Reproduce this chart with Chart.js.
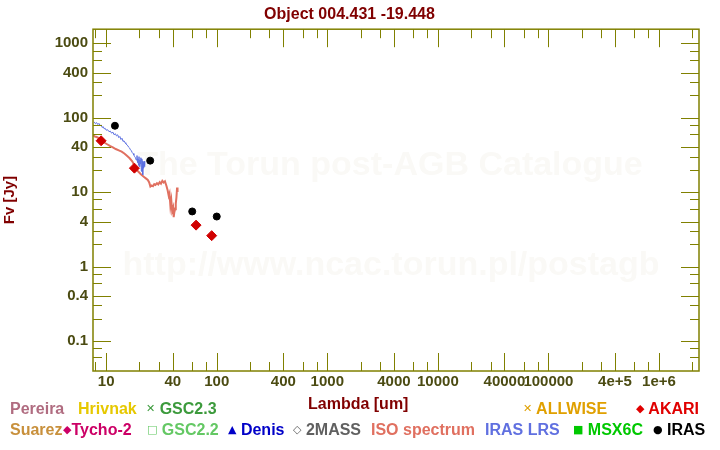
<!DOCTYPE html>
<html>
<head>
<meta charset="utf-8">
<title>Object 004.431 -19.448</title>
<script src="https://cdn.jsdelivr.net/npm/chart.js@4.4.1/dist/chart.umd.min.js"></script>
<style>
  body { margin: 0; background: #fff; }
  #wrap { position: relative; width: 720px; height: 450px; }
  #sed { position: absolute; left: 0; top: 0; }
  .lg { position: absolute; font: bold 16px "Liberation Sans", Arial, sans-serif; line-height: 18px; white-space: nowrap; }
  .sym { font-family: "DejaVu Sans", sans-serif; font-size: 11px; vertical-align: 2px; }
</style>
</head>
<body>
<div id="wrap">
  <canvas id="sed" width="720" height="450"></canvas>
  <div class="lg" style="left:308px;top:395px;color:#800000">Lambda [um]</div>

  <div class="lg" style="left:10px;top:400px;color:#b06c80">Pereira</div>
  <div class="lg" style="left:78px;top:400px;color:#e6c800">Hrivnak</div>
  <div class="lg" style="left:146px;top:400px;color:#3c9a3c"><span class="sym">✕</span> GSC2.3</div>
  <div class="lg" style="left:523px;top:400px;color:#e0a000"><span class="sym">✕</span> ALLWISE</div>
  <div class="lg" style="left:636px;top:400px;color:#e00000"><span class="sym">◆</span> AKARI</div>

  <div class="lg" style="left:10px;top:421px;color:#c8903c">Suarez</div>
  <div class="lg" style="left:63px;top:421px;color:#cc0066"><span class="sym">◆</span>Tycho-2</div>
  <div class="lg" style="left:147px;top:421px;color:#64c864"><span class="sym">□</span> GSC2.2</div>
  <div class="lg" style="left:228px;top:421px;color:#0000c8"><span class="sym">▲</span> Denis</div>
  <div class="lg" style="left:293px;top:421px;color:#606060"><span class="sym">◇</span> 2MASS</div>
  <div class="lg" style="left:371px;top:421px;color:#e07060">ISO spectrum</div>
  <div class="lg" style="left:485px;top:421px;color:#6070e0">IRAS LRS</div>
  <div class="lg" style="left:573px;top:421px;color:#00c800"><span class="sym">■</span> MSX6C</div>
  <div class="lg" style="left:653px;top:421px;color:#000000"><span class="sym">●</span> IRAS</div>
</div>
<script>
'use strict';

// ISO spectrum (um, Jy)
const isoLambda = [7.6, 7.9, 8.2, 8.6, 8.9, 9.3, 9.7, 10.2, 10.9, 11.5, 12.2, 13.0, 13.8, 14.6,
  15.5, 16.3, 17.2, 18.0, 18.6, 19.1, 19.8, 20.5, 21.1, 22.0, 23.0, 23.8, 24.5, 25.1, 25.8,
  26.5, 27.2, 27.9, 28.8, 29.6, 30.5, 31.3, 32.2, 33.1, 34.0, 35.1, 36.0, 36.8, 37.4, 38.1,
  38.8, 39.5, 40.3, 40.8, 41.3, 42.0, 42.6, 43.2, 43.8, 44.2];
const isoFlux = [58, 56, 55, 53, 52, 49, 46, 44, 41.5, 40, 38, 36.5, 35, 33,
  30.5, 28.5, 26, 23, 21, 19.5, 18.5, 17.5, 16.8, 16, 15.2, 14.6, 13.5, 11.9, 12.3,
  12.0, 12.8, 12.5, 13.2, 12.7, 13.6, 13.0, 14.2, 13.5, 14.0, 12.1, 10.5, 8.9, 9.6, 6.5,
  7.8, 5.6, 6.2, 4.6, 5.3, 5.9, 7.0, 8.5, 11.5, 10.0];

// IRAS LRS spectrum
const lrsLambda = [7.8, 8.0, 8.2, 8.4, 8.6, 8.8, 9.0, 9.2, 9.4, 9.6, 9.8, 10.0,
  10.3, 10.6, 10.9, 11.2, 11.5, 11.8, 12.1, 12.4, 12.7, 13.0, 13.3, 13.6, 13.9, 14.2,
  14.5, 14.8, 15.1, 15.4, 15.7, 16.0, 16.3, 16.6, 16.9, 17.2, 17.5, 17.8,
  18.1, 18.4, 18.7, 19.0, 19.2, 19.4, 19.6, 19.8, 20.0, 20.2, 20.4, 20.6, 20.8,
  21.0, 21.2, 21.4, 21.6, 21.8, 22.0, 22.2, 22.4];
const lrsFlux = [88, 83, 86, 81, 84, 78, 80, 74, 76, 71, 72, 68,
  69, 65, 66, 62, 64, 59, 61, 57, 59, 54, 56, 51, 53, 48,
  49, 46, 45, 43, 42, 40, 39, 37, 36, 34, 33, 31.5,
  30, 29, 27, 31, 25, 28, 23, 30, 22, 27, 24, 29, 19,
  28, 26, 17, 25, 21, 26, 22, 23];

// photometry
const akariLambda = [9, 18, 65, 90];
const akariFlux = [49, 21, 3.6, 2.6];
const irasLambda = [12, 25, 60, 100];
const irasFlux = [78, 26.5, 5.5, 4.7];

// axes
const xTickValues = [10, 40, 100, 400, 1000, 4000, 10000, 40000, 100000, 400000, 1000000];
const xTickLabels = ['10', '40', '100', '400', '1000', '4000', '10000', '40000', '100000', '4e+5', '1e+6'];
const yTickValues = [0.1, 0.4, 1, 4, 10, 40, 100, 400, 1000];
const yTickLabels = ['0.1', '0.4', '1', '4', '10', '40', '100', '400', '1000'];

const olive = '#808000';
const tickColor = '#4b4b12';
const font = '"Liberation Sans", Arial, sans-serif';

function pts(xs, ys) {
  return xs.map((x, i) => ({ x: x, y: ys[i] }));
}

function minors(lo, hi) {
  const out = [];
  for (let e = lo; e <= hi; e++) {
    [2, 3, 6, 8].forEach(m => out.push(m * Math.pow(10, e)));
  }
  return out;
}

const frame = {
  id: 'frame',
  beforeDatasetsDraw(chart) {
    const ctx = chart.ctx;
    ctx.save();
    ctx.fillStyle = '#faf9f6';
    ctx.font = 'bold 34px ' + font;
    ctx.textAlign = 'center';
    ctx.fillText('The Torun post-AGB Catalogue', 390, 175);
    ctx.fillText('http://www.ncac.torun.pl/postagb', 391, 275);
    ctx.restore();
  },
  afterDatasetsDraw(chart) {
    const { ctx, chartArea: a, scales: { x, y } } = chart;
    ctx.save();
    ctx.strokeStyle = olive;
    ctx.lineWidth = 1;
    const mark = (scale, values, len) => {
      values.forEach(v => {
        const p = Math.round(scale.getPixelForValue(v)) + 0.5;
        ctx.beginPath();
        if (scale.isHorizontal()) {
          if (p < a.left || p > a.right) return;
          ctx.moveTo(p, a.bottom); ctx.lineTo(p, a.bottom - len);
          ctx.moveTo(p, a.top); ctx.lineTo(p, a.top + len);
        } else {
          if (p < a.top || p > a.bottom) return;
          ctx.moveTo(a.left, p); ctx.lineTo(a.left + len, p);
          ctx.moveTo(a.right, p); ctx.lineTo(a.right - len, p);
        }
        ctx.stroke();
      });
    };
    mark(x, xTickValues, 18);
    mark(x, minors(0, 6), 9);
    mark(y, yTickValues, 18);
    mark(y, minors(-2, 3), 9);
    ctx.lineWidth = 1.5;
    ctx.strokeRect(a.left, a.top, a.right - a.left, a.bottom - a.top);
    ctx.restore();
  }
};

new Chart(document.getElementById('sed'), {
  type: 'scatter',
  data: {
    datasets: [
      { label: 'IRAS', data: pts(irasLambda, irasFlux), pointStyle: 'circle', pointRadius: 3.5,
        backgroundColor: '#000', borderColor: '#000', order: 0 },
      { label: 'AKARI', data: pts(akariLambda, akariFlux), pointStyle: 'rectRot', pointRadius: 5,
        backgroundColor: '#d00000', borderColor: '#d00000', order: 1 },
      { label: 'IRAS LRS', data: pts(lrsLambda, lrsFlux), showLine: true, borderColor: '#5b6fe0',
        borderWidth: 1, pointRadius: 0, order: 2 },
      { label: 'ISO spectrum', data: pts(isoLambda, isoFlux), showLine: true, borderColor: '#e07060',
        borderWidth: 2, pointRadius: 0, order: 3 }
    ]
  },
  options: {
    responsive: false,
    animation: false,
    events: [],
    layout: { padding: { left: 0, right: 21, top: 0, bottom: 0 } },
    plugins: {
      legend: { display: false },
      tooltip: { enabled: false },
      title: {
        display: true,
        text: 'Object 004.431 -19.448',
        color: '#800000',
        font: { family: font, size: 16, weight: 'bold' },
        padding: { top: 5, bottom: 5 }
      }
    },
    scales: {
      x: {
        type: 'logarithmic',
        min: 7.6,
        max: 2.3e6,
        afterFit(s) { s.height = 79; },
        afterBuildTicks(s) { s.ticks = xTickValues.map(v => ({ value: v })); },
        ticks: {
          autoSkip: false, maxRotation: 0, minRotation: 0, padding: 2,
          color: tickColor, font: { family: font, size: 15, weight: 'bold' },
          callback: (v, i) => xTickLabels[i]
        },
        grid: { display: false, drawTicks: false },
        border: { display: false }
      },
      y: {
        type: 'logarithmic',
        min: 0.0394,
        max: 1549,
        afterFit(s) { s.width = 93; },
        afterBuildTicks(s) { s.ticks = yTickValues.map(v => ({ value: v })); },
        ticks: {
          autoSkip: false, padding: 5,
          color: tickColor, font: { family: font, size: 15, weight: 'bold' },
          callback: (v, i) => yTickLabels[i]
        },
        grid: { display: false, drawTicks: false },
        border: { display: false },
        title: {
          display: true, text: 'Fv [Jy]', color: '#800000',
          font: { family: font, size: 15, weight: 'bold' },
          padding: { top: 1, bottom: 0 }
        }
      }
    }
  },
  plugins: [frame]
});
</script>
</body>
</html>
